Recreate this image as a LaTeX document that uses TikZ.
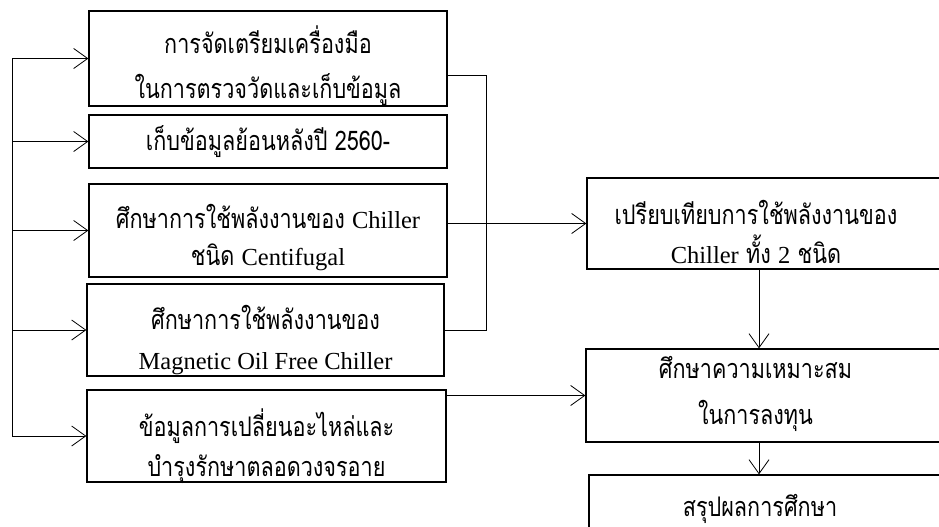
\documentclass[tikz,border=0pt]{standalone}
\usepackage{fontspec}
\setmainfont{Liberation Serif}
\newfontfamily\thaifont[Script=Thai,FakeStretch=0.8]{Loma}
\newfontfamily\latfont{Liberation Serif}
\usetikzlibrary{arrows.meta}
\newcommand\lat[1]{{\latfont\fontsize{24.5}{\baselineskip}\selectfont #1}}
\newcommand\TS[1]{\thaifont\fontsize{27}{#1}\selectfont}
\begin{document}
\begin{tikzpicture}[x=1pt,y=-1pt,
  box/.style={draw, line width=1.3pt, rectangle, inner sep=0pt},
  txt/.style={align=center, font=\TS{40pt}, inner sep=0pt},
  conn/.style={line width=0.8pt},
  arr/.style={line width=0.8pt, -{Straight Barb[length=14pt,width=20pt]}}]
\useasboundingbox (0,0) rectangle (939,527);
% left column
\node[box, minimum width=358pt, minimum height=95pt,
  label={[txt,font=\TS{45pt},name=t1,yshift=-7pt]center:{การจัดเตรียมเครื่องมือ\\ในการตรวจวัดและเก็บข้อมูล}}] (b1) at (268,58.5) {};
\node[box, minimum width=358pt, minimum height=53pt,
  label={[txt,name=t2]center:{เก็บข้อมูลย้อนหลังปี 2560-}}] (b2) at (268,141.5) {};
\node[box, minimum width=358pt, minimum height=93pt,
  label={[txt,font=\TS{37pt},name=t3,yshift=-7pt]center:{ศึกษาการใช้พลังงานของ \lat{Chiller}\\ชนิด \lat{Centifugal}}}] (b3) at (268,230.5) {};
\node[box, minimum width=357pt, minimum height=92pt,
  label={[txt,name=t4,yshift=-10pt]center:{ศึกษาการใช้พลังงานของ\\\lat{Magnetic Oil Free Chiller}}}] (b4) at (265.5,330) {};
\node[box, minimum width=359pt, minimum height=92pt,
  label={[txt,name=t5,yshift=-10pt]center:{ข้อมูลการเปลี่ยนอะไหล่และ\\บำรุงรักษาตลอดวงจรอาย}}] (b5) at (266.5,436) {};
% right column
\node[box, minimum width=378pt, minimum height=91pt,
  label={[txt,font=\TS{39pt},name=s1,xshift=-20pt,yshift=-8pt]center:{เปรียบเทียบการใช้พลังงานของ\\\lat{Chiller} ทั้ง \lat{2} ชนิด}}] (r1) at (776,223.5) {};
\node[box, minimum width=379pt, minimum height=93pt,
  label={[txt,font=\TS{46pt},name=s2,xshift=-20pt,yshift=2pt]center:{ศึกษาความเหมาะสม\\ในการลงทุน}}] (r2) at (775.5,395.5) {};
\node[box, minimum width=376pt, minimum height=90pt,
  label={[txt,name=s3,xshift=-17pt,yshift=11pt]center:{สรุปผลการศึกษา}}] (r3) at (777,520) {};
% connectors
\coordinate (busx) at (12,0);
\coordinate (mx) at (486,0);
\coordinate (ax) at (759,0);
\draw[conn] (b1.west -| busx) -- (b5.west -| busx);
\foreach \b in {b1,b2,b3,b4,b5} \draw[arr] (\b.west -| busx) -- (\b.west);
\draw[conn] ([yshift=-16.5pt]b1.east) -| (mx |- b4.east) -- (b4.east);
\draw[arr] (b3.east |- r1.west) -- (r1.west);
\draw[arr] (b5.east |- r2.west) -- (r2.west);
\draw[arr] (r1.south -| ax) -- (r2.north -| ax);
\draw[arr] (r2.south -| ax) -- (r3.north -| ax);
\end{tikzpicture}
\end{document}
